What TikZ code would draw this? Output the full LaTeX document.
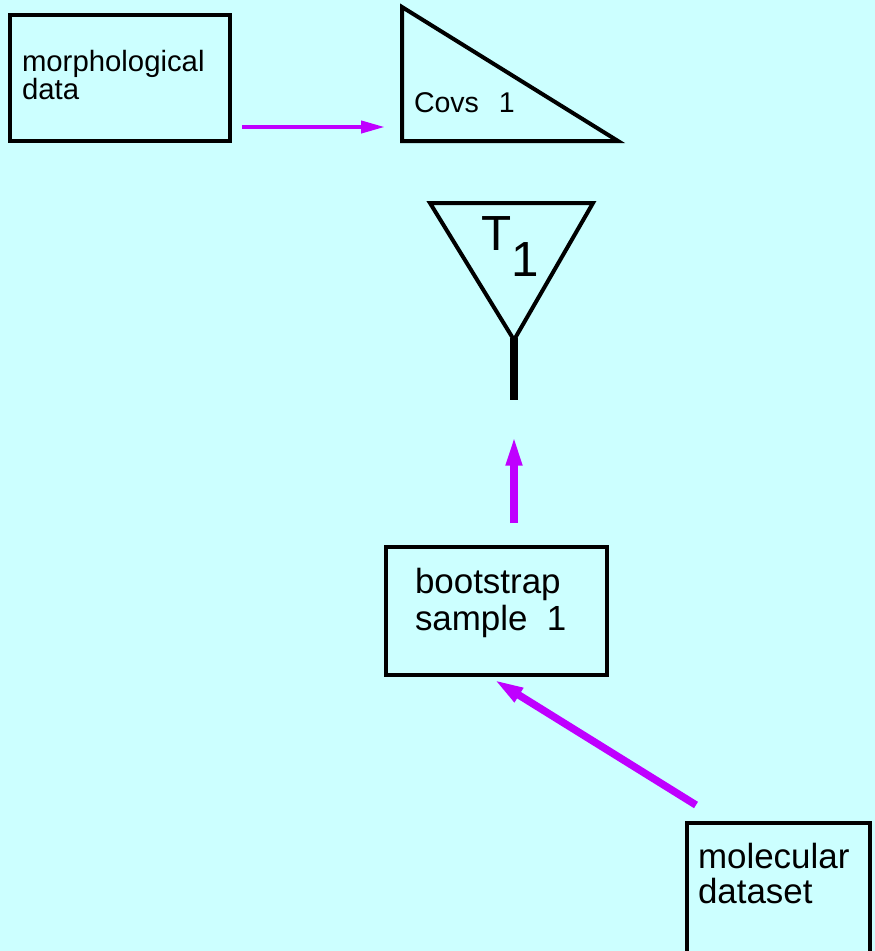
\documentclass[tikz,border=0pt]{standalone}
\usepackage{fontspec}
\setmainfont{Liberation Sans}
\usetikzlibrary{arrows.meta}
\definecolor{bgcyan}{RGB}{204,255,255}
\definecolor{flow}{RGB}{191,0,255}

\begin{document}
\begin{tikzpicture}[x=0.75pt, y=-0.75pt,
  outline/.style={draw=black, line width=3pt},
  databox/.style={outline, rectangle, inner sep=0pt, outer sep=0pt},
  lbl/.style={inner sep=0pt, outer sep=0pt, anchor=base west, align=left, text=black},
  thinflow/.style={draw=flow, line width=3pt,
    -{Triangle[length=18pt, width=9pt]}},
  thickflow/.style={draw=flow, line width=5.6pt,
    -{Triangle[length=23pt, width=11pt]}}]

  % background and page frame
  \fill[bgcyan] (0,0) rectangle (875,951);
  \useasboundingbox (0,0) rectangle (875,951);

  % data boxes
  \node[databox, minimum width=165pt, minimum height=94.5pt] (morph) at (120,78) {};
  \node[databox, minimum width=165.75pt, minimum height=96pt] (boot) at (496.5,611) {};
  \node[databox, minimum width=137.25pt, minimum height=106.5pt] (mol) at (778.5,894) {};

  % box texts (anchored on the baseline of the last line)
  \node[lbl, font=\fontsize{22pt}{21pt}\selectfont] (morphtext) at (22,99) {morphological\\data};
  \node[lbl, font=\fontsize{26.2pt}{27.75pt}\selectfont] (boottext) at (415,630) {bootstrap\\sample~~1};
  \node[lbl, font=\fontsize{26.2pt}{26.25pt}\selectfont] (moltext) at (698,903) {molecular\\dataset};

  % covariance triangle
  \draw[outline] (402,7) -- (402,141) -- (618,141) -- cycle;
  \node[lbl, font=\fontsize{21.4pt}{24pt}\selectfont] (covs) at (414,112) {Covs~~\hspace{3pt}1};

  % tree funnel with its stem
  \draw[outline] (430,203) -- (593,203) -- (514,340) -- cycle;
  \draw[line width=5.8pt] (514,338) -- (514,400);
  \node[lbl, font=\fontsize{37pt}{40pt}\selectfont] (tree) at (481,250) {T\raisebox{-20pt}{1}};

  % arrow end points
  \coordinate (a1s) at (242,127);
  \coordinate (a1e) at (385,127);
  \coordinate (a2s) at (514,523);
  \coordinate (a2e) at (514,435);
  \coordinate (a3s) at (696,805);
  \coordinate (a3e) at (493,679);

  % flow arrows
  \draw[thinflow] (a1s) -- (a1e);
  \draw[thickflow] (a2s) -- (a2e);
  \draw[thickflow] (a3s) -- (a3e);
\end{tikzpicture}
\end{document}
